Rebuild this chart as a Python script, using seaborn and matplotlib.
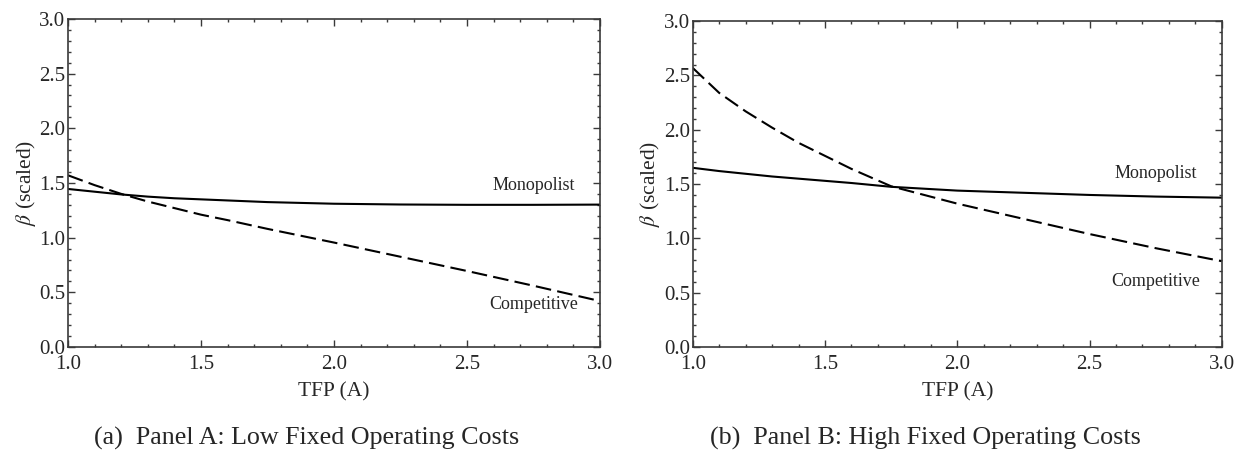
import numpy as np
import pandas as pd
import matplotlib
matplotlib.use("Agg")
import matplotlib.pyplot as plt
from matplotlib.ticker import MultipleLocator
import seaborn as sns

# ---- data ----
tfp = [1.0, 1.1, 1.2, 1.3, 1.4, 1.5, 1.6, 1.75, 2.0, 2.25, 2.5, 2.75, 3.0]

a_monopolist = [1.445, 1.42, 1.395, 1.375, 1.36, 1.35, 1.34, 1.325, 1.31, 1.303, 1.30, 1.30, 1.302]
a_competitive = [1.57, 1.48, 1.40, 1.33, 1.27, 1.21, 1.16, 1.08, 0.955, 0.825, 0.695, 0.56, 0.42]

b_monopolist = [1.65, 1.62, 1.595, 1.57, 1.55, 1.53, 1.51, 1.475, 1.44, 1.42, 1.40, 1.385, 1.375]
b_competitive = [2.57, 2.34, 2.17, 2.02, 1.88, 1.76, 1.64, 1.48, 1.32, 1.18, 1.04, 0.91, 0.79]

x_ticks = [1.0, 1.5, 2.0, 2.5, 3.0]
y_ticks = [0.0, 0.5, 1.0, 1.5, 2.0, 2.5, 3.0]

captions = ["(a)  Panel A: Low Fixed Operating Costs",
            "(b)  Panel B: High Fixed Operating Costs"]
mono_label = "Monopolist"
comp_label = "Competitive"
mono_pos = [(2.75, 1.48), (2.75, 1.60)]
comp_pos = [(2.75, 0.39), (2.75, 0.60)]

# ---- styling ----
sns.set_theme(style="ticks")
plt.rcParams["font.family"] = ["Liberation Serif", "DejaVu Serif"]
plt.rcParams["mathtext.fontset"] = "stix"

fig = plt.figure(figsize=(12.37, 4.55), dpi=100)
ax_a = fig.add_axes([0.055, 0.2374, 0.430, 0.721])
ax_b = fig.add_axes([0.560, 0.2374, 0.4277, 0.716])

panels = [(ax_a, a_monopolist, a_competitive), (ax_b, b_monopolist, b_competitive)]

spine_col = "#3a3a3a"
for i, (ax, mono, comp) in enumerate(panels):
    df = pd.DataFrame({"tfp": tfp, "mono": mono, "comp": comp})
    sns.lineplot(data=df, x="tfp", y="mono", ax=ax, color="black", linewidth=1.5)
    sns.lineplot(data=df, x="tfp", y="comp", ax=ax, color="black", linewidth=1.5,
                 linestyle=(0, (7.5, 3.0)))
    ax.set_xlim(1.0, 3.0)
    ax.set_ylim(0.0, 3.0)
    ax.set_xticks(x_ticks)
    ax.set_yticks(y_ticks)
    ax.set_xticklabels([f"{v:.1f}" for v in x_ticks])
    ax.set_yticklabels([f"{v:.1f}" for v in y_ticks])
    ax.xaxis.set_minor_locator(MultipleLocator(0.1))
    ax.yaxis.set_minor_locator(MultipleLocator(0.1))
    ax.tick_params(which="both", direction="in", top=True, right=True,
                   color=spine_col, width=1.0, labelsize=15)
    ax.tick_params(which="major", length=5)
    ax.tick_params(which="minor", length=2.5)
    ax.tick_params(axis="x", pad=6)
    ax.tick_params(axis="y", pad=2)
    for s in ax.spines.values():
        s.set_visible(True)
        s.set_color(spine_col)
        s.set_linewidth(1.2)
    ax.set_xlabel("TFP (A)", fontsize=15.5, labelpad=6)
    ax.set_ylabel(r"$\beta$ (scaled)", fontsize=15.5, labelpad=1)
    ax.text(*mono_pos[i], mono_label, fontsize=13, ha="center", va="center")
    ax.text(*comp_pos[i], comp_label, fontsize=13, ha="center", va="center")

fig.text(0.2475, 0.0374, captions[0], fontsize=18.7, ha="center", va="center")
fig.text(0.748, 0.0374, captions[1], fontsize=18.7, ha="center", va="center")

fig.savefig("out.png", dpi=100)
